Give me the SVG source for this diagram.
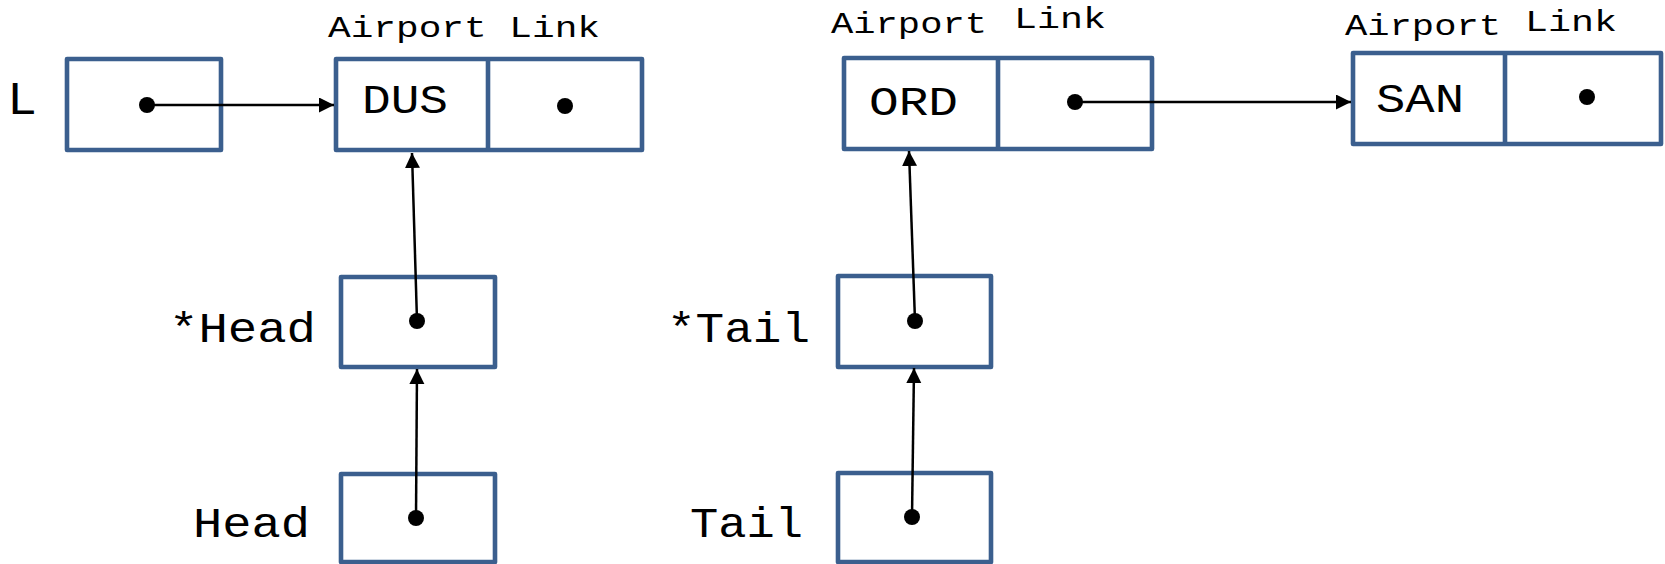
<svg xmlns="http://www.w3.org/2000/svg" width="1665" height="564" viewBox="0 0 1665 564">
<style>
.box{fill:#ffffff;stroke:#3B5F8E;stroke-width:4.6;stroke-linejoin:round}
.div{stroke:#3B5F8E;stroke-width:4.6}
.t{font-family:"Liberation Mono","DejaVu Sans Mono",monospace;fill:#000}
.lab{font-size:30px}
.val{font-size:40px}
.var{font-size:42px}
.dot{fill:#000}
.con{stroke:#000;stroke-width:2.5;fill:none;marker-end:url(#ah)}
</style>
<defs>
<marker id="ah" markerUnits="userSpaceOnUse" markerWidth="16" markerHeight="16" refX="15" refY="7.5" orient="auto">
<path d="M0,0 L15,7.5 L0,15 z" fill="#000"/>
</marker>
</defs>
<rect width="1665" height="564" fill="#fff"/>
<g id="L">
<text class="t" style="font-size:46px" x="7" y="114" textLength="30" lengthAdjust="spacingAndGlyphs">L</text>
<rect class="box" x="67" y="59" width="154" height="91"/>
</g>
<g id="nodeDUS">
<text class="t lab" x="328" y="37" textLength="272" lengthAdjust="spacingAndGlyphs">Airport Link</text>
<rect class="box" x="336" y="59" width="306" height="91"/>
<line class="div" x1="488" y1="59" x2="488" y2="150"/>
<text class="t val" x="362" y="113" textLength="86" lengthAdjust="spacingAndGlyphs">DUS</text>
<circle class="dot" cx="565" cy="106" r="8"/>
</g>
<g id="nodeORD">
<text class="t lab" x="831" y="33" textLength="156" lengthAdjust="spacingAndGlyphs">Airport</text>
<text class="t lab" x="1014" y="28" textLength="92" lengthAdjust="spacingAndGlyphs">Link</text>
<rect class="box" x="844" y="58" width="308" height="91"/>
<line class="div" x1="998" y1="58" x2="998" y2="149"/>
<text class="t val" x="869" y="115" textLength="89" lengthAdjust="spacingAndGlyphs">ORD</text>
</g>
<g id="nodeSAN">
<text class="t lab" x="1345" y="35" textLength="156" lengthAdjust="spacingAndGlyphs">Airport</text>
<text class="t lab" x="1525" y="31" textLength="92" lengthAdjust="spacingAndGlyphs">Link</text>
<rect class="box" x="1353" y="53" width="308" height="91"/>
<line class="div" x1="1505" y1="53" x2="1505" y2="144"/>
<text class="t val" x="1376" y="112" textLength="88" lengthAdjust="spacingAndGlyphs">SAN</text>
<circle class="dot" cx="1587" cy="97" r="8"/>
</g>
<g id="starHead">
<text class="t var" x="169" y="342" textLength="147" lengthAdjust="spacingAndGlyphs">*Head</text>
<rect class="box" x="341" y="277" width="154" height="90"/>
</g>
<g id="Head">
<text class="t var" x="193" y="537" textLength="117" lengthAdjust="spacingAndGlyphs">Head</text>
<rect class="box" x="341" y="474" width="154" height="88"/>
</g>
<g id="starTail">
<text class="t var" x="667" y="342" textLength="143" lengthAdjust="spacingAndGlyphs">*Tail</text>
<rect class="box" x="838" y="276" width="153" height="91"/>
</g>
<g id="Tail">
<text class="t var" x="690" y="537" textLength="113" lengthAdjust="spacingAndGlyphs">Tail</text>
<rect class="box" x="838" y="473" width="153" height="89"/>
</g>
<g id="connectors">
<circle class="dot" cx="147" cy="105" r="8"/>
<line class="con" x1="147" y1="105" x2="334" y2="105"/>
<circle class="dot" cx="1075" cy="102" r="8"/>
<line class="con" x1="1075" y1="102" x2="1351" y2="102"/>
<circle class="dot" cx="417" cy="321" r="8"/>
<line class="con" x1="417" y1="321" x2="412" y2="153"/>
<circle class="dot" cx="416" cy="518" r="8"/>
<line class="con" x1="416" y1="518" x2="417" y2="369"/>
<circle class="dot" cx="915" cy="321" r="8"/>
<line class="con" x1="915" y1="321" x2="909" y2="151"/>
<circle class="dot" cx="912" cy="517" r="8"/>
<line class="con" x1="912" y1="517" x2="914" y2="368"/>
</g>
</svg>
